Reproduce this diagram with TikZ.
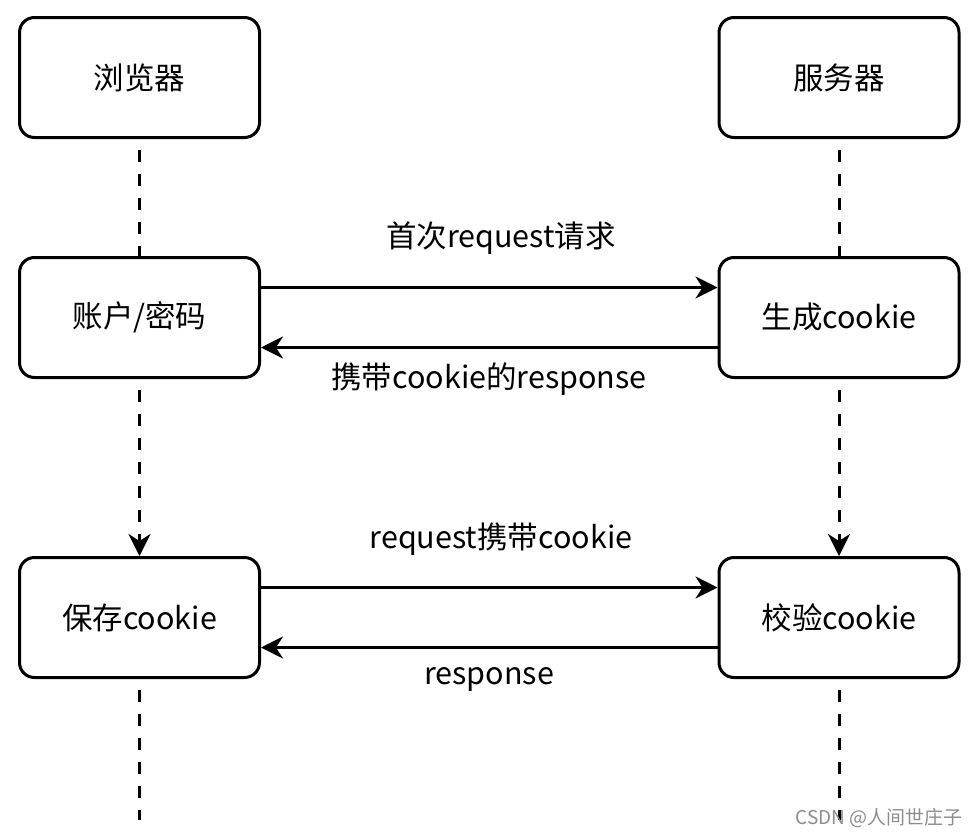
\documentclass[tikz,border=0pt]{standalone}
\usepackage{fontspec}
\setmainfont{Noto Sans CJK SC}
\usetikzlibrary{positioning,arrows.meta}
\tikzstyle{box}  = [rectangle, draw, line width=3pt, rounded corners=15pt,
                    minimum width=240pt, minimum height=120pt,
                    font=\fontsize{30.5}{34}\selectfont]
\tikzstyle{msg}  = [draw, line width=3pt, -{Stealth[length=22pt,width=22pt,inset=7pt]}]
\tikzstyle{life} = [draw, line width=3pt, dash pattern=on 12pt off 12pt, dash phase=13pt]
\tikzstyle{lbl}  = [inner sep=0pt, font=\fontsize{30.5}{34}\selectfont]

\begin{document}
\begin{tikzpicture}[x=1pt, y=1pt, node distance=240pt]
		\useasboundingbox (0,0) rectangle (978,-838);
		\node[box] (browser) at (139.5,-77.5) {浏览器};
		\node[box, right of=browser, node distance=699.5pt] (server) {服务器};
		\node[box, below of=browser] (login) {账户/密码};
		\node[box, below of=server] (gen) {生成cookie};
		\node[box, below of=login, node distance=300pt] (save) {保存cookie};
		\node[box, below of=gen, node distance=300pt] (check) {校验cookie};
		\coordinate (bend) at (139.5,-820);
		\coordinate (send) at (839,-820);

		\draw[life] (browser) -- (login);
		\draw[life] (server) -- (gen);
		\draw[life, -{Stealth[length=22pt,width=22pt,inset=7pt]}] (login) -- (save);
		\draw[life, -{Stealth[length=22pt,width=22pt,inset=7pt]}] (gen) -- (check);
		\draw[life] (save) -- (bend);
		\draw[life] (check) -- (send);

		\draw[msg] ([yshift=30pt]login.east) -- ([yshift=30pt]gen.west);
		\draw[msg] ([yshift=-30pt]gen.west) -- ([yshift=-30pt]login.east);
		\draw[msg] ([yshift=30pt]save.east) -- ([yshift=30pt]check.west);
		\draw[msg] ([yshift=-30pt]check.west) -- ([yshift=-30pt]save.east);

		\node[lbl] (req1) at (501,-238) {首次request请求};
		\node[lbl] (resp1) at (489,-379) {携带cookie的response};
		\node[lbl] (req2) at (501,-539) {request携带cookie};
		\node[lbl] (resp2) at (489,-679) {response};

		\node[anchor=east, inner sep=0pt, text=black!45, font=\fontsize{19}{22}\selectfont] (mark) at (963,-818) {CSDN @人间世庄子};
	\end{tikzpicture}
\end{document}
